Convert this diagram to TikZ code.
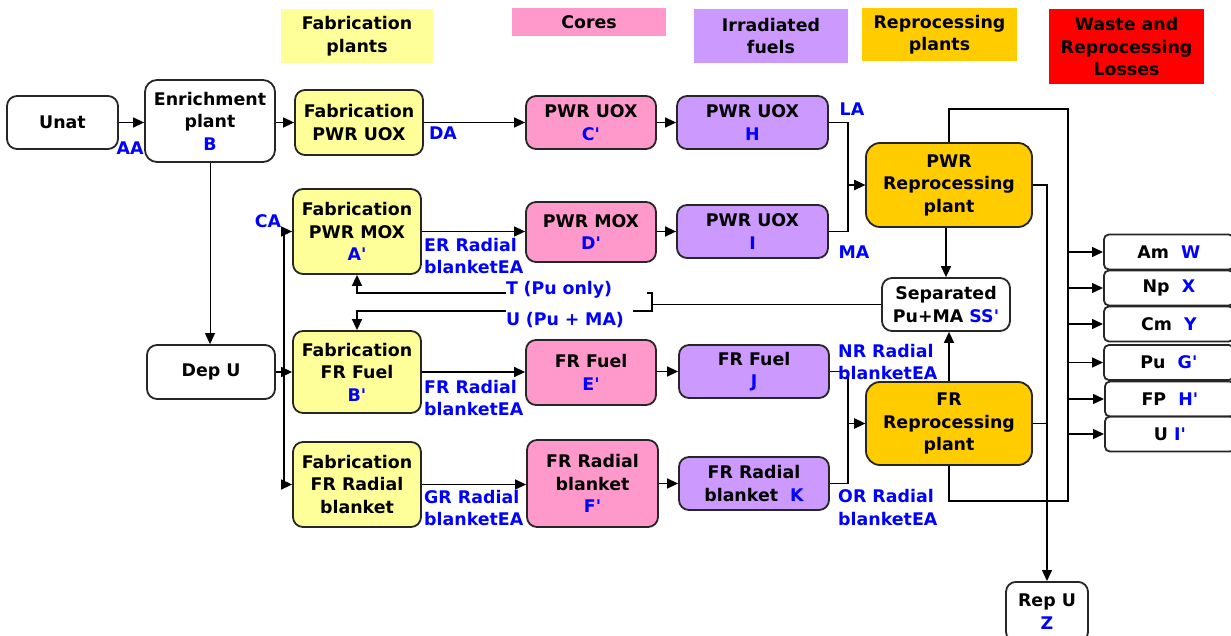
\documentclass[tikz,border=0pt]{standalone}
\usepackage{fontspec}
\newfontfamily\dvs{DejaVu Sans}
\usetikzlibrary{arrows.meta}
\definecolor{fabY}{HTML}{FFFF99}
\definecolor{coreP}{HTML}{FF99CC}
\definecolor{irrV}{HTML}{CC99FF}
\definecolor{repO}{HTML}{FFCC00}
\definecolor{wasteR}{HTML}{FF0000}
\definecolor{lblB}{HTML}{0000FF}
\begin{document}
\begin{tikzpicture}[x=1pt,y=-1pt,
  every node/.style={font=\dvs\bfseries\fontsize{17.4}{22.5}\selectfont, align=center, inner sep=0pt},
  sz/.style 2 args={minimum width=#1pt, minimum height=#2pt},
  box/.style={draw=black!85, line width=1.8pt, rounded corners=10pt},
  sbox/.style={draw=black!85, line width=1.8pt, rounded corners=5pt, anchor=west, minimum width=130pt, minimum height=35pt},
  conn/.style={line width=1.5pt},
  arr/.style={conn, -{Triangle[length=11pt,width=10pt]}},
  lbl/.style={text=lblB, align=left},
]
\useasboundingbox (0,0) rectangle (1231,636);
\clip (0,0) rectangle (1231,636);
\fill[white] (0,0) rectangle (1231,636);

% headers
\node[fill=fabY, sz={152}{54}] (h1) at (357,36) {Fabrication\\plants};
\node[fill=coreP, sz={154}{28}] (h2) at (589,22) {Cores};
\node[fill=irrV, sz={154}{54}] (h3) at (771,36) {Irradiated\\fuels};
\node[fill=repO, sz={155}{53}] (h4) at (939.5,34.5) {Reprocessing\\plants};
\node[fill=wasteR, sz={155}{75}] (h5) at (1126.5,47) {Waste and\\Reprocessing\\Losses};

% main boxes
\node[box, sz={111}{53}] (unat) at (62.5,122.5) {Unat};
\node[box, sz={130}{82}, rounded corners=12pt] (enr) at (210,121) {Enrichment\\plant\\\textcolor{lblB}{B}};
\node[box, fill=fabY, sz={128}{65}] (fuox) at (359,122.5) {Fabrication\\PWR UOX};
\node[box, fill=coreP, sz={130}{53}] (cuox) at (591,122.5) {PWR UOX\\\textcolor{lblB}{C'}};
\node[box, fill=irrV, sz={151}{53}] (huox) at (752.5,122.5) {PWR UOX\\\textcolor{lblB}{H}};
\node[box, fill=fabY, sz={128}{85}] (fmox) at (357,231.5) {Fabrication\\PWR MOX\\\textcolor{lblB}{A'}};
\node[box, fill=coreP, sz={130}{60}] (dmox) at (591,232) {PWR MOX\\\textcolor{lblB}{D'}};
\node[box, fill=irrV, sz={151}{53}] (iuox) at (752.5,231.5) {PWR UOX\\\textcolor{lblB}{I}};
\node[box, fill=repO, sz={166}{84}, rounded corners=14pt] (pwrrep) at (949,185) {PWR\\Reprocessing\\plant};
\node[box, sz={128}{53}] (sep) at (946,304.5) {Separated\\Pu+MA \textcolor{lblB}{SS'}};
\node[box, sz={128}{54}] (depu) at (211,372) {Dep U};
\node[box, fill=fabY, sz={128}{82}] (ffr) at (357,372) {Fabrication\\FR Fuel\\\textcolor{lblB}{B'}};
\node[box, fill=coreP, sz={130}{65}] (efr) at (591,372.5) {FR Fuel\\\textcolor{lblB}{E'}};
\node[box, fill=irrV, sz={150}{53}] (jfr) at (754,371.5) {FR Fuel\\\textcolor{lblB}{J}};
\node[box, fill=repO, sz={166}{83}, rounded corners=14pt] (frrep) at (949,423.5) {FR\\Reprocessing\\plant};
\node[box, fill=fabY, sz={128}{85}] (frb) at (357,484.5) {Fabrication\\FR Radial\\blanket};
\node[box, fill=coreP, sz={131}{87}] (ffrb) at (592.5,483.5) {FR Radial\\blanket\\\textcolor{lblB}{F'}};
\node[box, fill=irrV, sz={150}{53}] (kfrb) at (754,483.5) {FR Radial\\blanket~~\textcolor{lblB}{K}};
\node[box, sz={82}{60}, anchor=north] (repu) at (1047,581) {Rep U\\\textcolor{lblB}{Z}};

% waste boxes
\node[sbox] (am) at (1103,252) {Am~~\textcolor{lblB}{W}};
\node[sbox] (np) at (1103,288) {Np~~\textcolor{lblB}{X}};
\node[sbox] (cm) at (1103,324) {Cm~~\textcolor{lblB}{Y}};
\node[sbox] (pu) at (1103,362.5) {Pu~~\textcolor{lblB}{G'}};
\node[sbox] (fp) at (1104,399) {FP~~\textcolor{lblB}{H'}};
\node[sbox] (uu) at (1104,434) {U \textcolor{lblB}{I'}};

% connectors
\draw[arr] (unat.east) -- (enr.west |- unat.east);
\draw[arr] (enr.east |- fuox.west) -- (fuox.west);
\draw[arr, line width=1pt] (enr.south) -- (enr.south |- depu.north);
\draw[arr] (fuox) -- (cuox);
\draw[arr] (cuox) -- (huox);
\draw[arr] (huox.east) -- ++(19,0) |- (pwrrep.west);
\draw[arr] (iuox.east) -- ++(19,0) |- (pwrrep.west);

\draw[arr] (depu.east) -- (ffr.west);
\draw[conn] (depu.east) -- ++(8,0) coordinate (jb);
\draw[arr] (jb) |- (fmox.west);
\draw[arr] (jb) |- (frb.west);

\draw[arr] (fmox.east) -- (dmox.west |- fmox.east);
\draw[arr] (dmox.east |- iuox.west) -- (iuox.west);
\draw[arr] (ffr) -- (efr.west |- ffr.east);
\draw[arr] (efr.east |- jfr.west) -- (jfr.west);
\draw[arr] (frb) -- (ffrb.west |- frb.east);
\draw[arr] (ffrb.east |- kfrb.west) -- (kfrb.west);
\draw[arr] (jfr.east) -- ++(18,0) |- (frrep.west);
\draw[arr] (kfrb.east) -- ++(18,0) |- (frrep.west);

\draw[arr] (sep.north |- pwrrep.south) -- (sep.north);
\draw[arr] (frrep.north) -- (frrep.north |- sep.south);

\coordinate (bk) at (652,304.5);
\draw[conn] (sep.west) -- (bk);
\draw[arr] (bk) -- (652,293) -| (fmox.south);
\draw[arr] (bk) -- (652,311) -| (ffr.north);

\draw[conn] (pwrrep.north) |- (1068,109) coordinate (bt) -- (1068,501) coordinate (bb) -| (frrep.south);
\foreach \n in {am,np,cm,pu,fp,uu}
  \draw[arr] (\n.west -| bt) -- (\n.west);
\draw[arr] (pwrrep.east) -| (repu.north);
\draw[conn] (frrep.east) -- (frrep.east -| repu.north);

% labels
\node[lbl] (laa) at (130,148) {AA};
\node[lbl] (lda) at (443,133) {DA};
\node[lbl] (lca) at (268,221) {CA};
\node[lbl] (lla) at (852,109) {LA};
\node[lbl] (lma) at (854,252) {MA};
\node[lbl, anchor=west] (ler) at (424,256) {ER Radial\\blanketEA};
\node[lbl, anchor=west] (lfr) at (424,398) {FR Radial\\blanketEA};
\node[lbl, anchor=west] (lgr) at (424,508) {GR Radial\\blanketEA};
\node[lbl, anchor=west] (lnr) at (838,362) {NR Radial\\blanketEA};
\node[lbl, anchor=west] (lor) at (838,507.5) {OR Radial\\blanketEA};
\node[lbl, fill=white, text width=141pt, inner ysep=1pt] (lt) at (576.5,290) {T (Pu only)};
\node[lbl, fill=white, text width=127pt, inner ysep=3pt] (lu) at (569.5,320) {U (Pu + MA)};
\end{tikzpicture}
\end{document}
